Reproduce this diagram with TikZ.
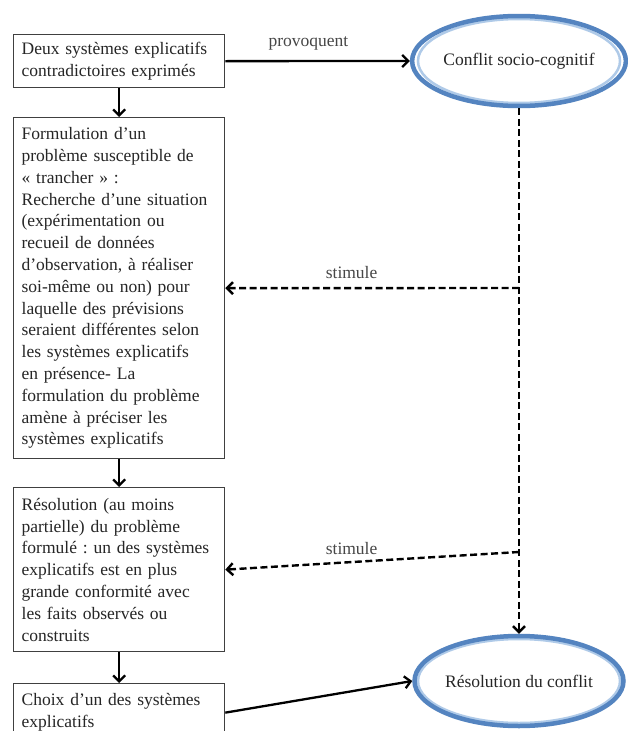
\documentclass[tikz,border=0pt]{standalone}
\usepackage{fontspec}
\setmainfont{Liberation Serif}
\frenchspacing
\usetikzlibrary{shapes.geometric,arrows.meta}
\definecolor{ellblue}{RGB}{84,132,192}
\definecolor{ellin}{RGB}{175,202,232}
\definecolor{txt}{RGB}{38,38,38}
\begin{document}
\begin{tikzpicture}[x=1pt,y=-1pt,
  box/.style={draw=black!75, line width=1.3pt, rectangle, anchor=north west,
    text width=195pt, inner xsep=8pt, inner ysep=0pt, align=left, text=txt,
    font=\fontsize{17.5}{21.8}\selectfont},
  ell/.style={ellipse, draw=ellblue, line width=4.5pt, minimum width=208pt, minimum height=90pt,
    inner sep=0pt, text=txt, font=\fontsize{17.5}{21.8}\selectfont},
  ellglow/.style={ellipse, draw=ellin, line width=2.5pt, minimum width=202pt, minimum height=84pt, inner sep=0pt},
  lbl/.style={text=txt!85, font=\fontsize{17.5}{21.8}\selectfont, inner sep=0pt},
  solidarrow/.style={draw=black, line width=2.3pt, -{Straight Barb[length=6pt,width=12pt]}},
  dasharrow/.style={draw=black, line width=2.4pt, dash pattern=on 7pt off 3.5pt, -{Straight Barb[length=6pt,width=12pt]}}]
\useasboundingbox[fill=white] (0,0) rectangle (627,731);

\node[box, minimum height=53pt] (b1) at (13,34) {Deux systèmes explicatifs\\contradictoires exprimés};
\node[box, minimum height=341pt] (b2) at (13,117) {Formulation d’un\\problème susceptible de\\« trancher » :\\Recherche d’une situation\\(expérimentation ou\\recueil de données\\d’observation, à réaliser\\soi-même ou non) pour\\laquelle des prévisions\\seraient différentes selon\\les systèmes explicatifs\\en présence- La\\formulation du problème\\amène à préciser les\\systèmes explicatifs};
\node[box, minimum height=164pt] (b3) at (13,487) {Résolution (au moins\\partielle) du problème\\formulé~: un des systèmes\\explicatifs est en plus\\grande conformité avec\\les faits observés ou\\construits};
\node[box, minimum height=58pt] (b4) at (13,683) {Choix d’un des systèmes\\explicatifs};

\node[ellglow] (g1) at (519,61) {};
\node[ellglow] (g2) at (519,681) {};
\node[ell] (e1) at (519,61) {Conflit socio-cognitif};
\node[ell] (e2) at (519,681) {Résolution du conflit};

\coordinate (s1) at (519,288);
\coordinate (s2) at (519,552);

\draw[solidarrow] (b1.east) -- node[lbl, above=10pt, pos=0.45] (l1) {provoquent} (e1.west);
\draw[solidarrow] (b1.south) -- (b2.north);
\draw[solidarrow] (b2.south) -- (b3.north);
\draw[solidarrow] (b3.south) -- (b4.north);
\draw[solidarrow] (b4.east) -- (e2.west);
\draw[dasharrow] (e1.south) -- (e2.north);
\draw[dasharrow] (s1) -- node[lbl, above=8pt, pos=0.57] (l2) {stimule} (b2.east);
\draw[dasharrow] (s2) -- node[lbl, above=6pt, pos=0.57] (l3) {stimule} (b3.east);
\end{tikzpicture}
\end{document}
